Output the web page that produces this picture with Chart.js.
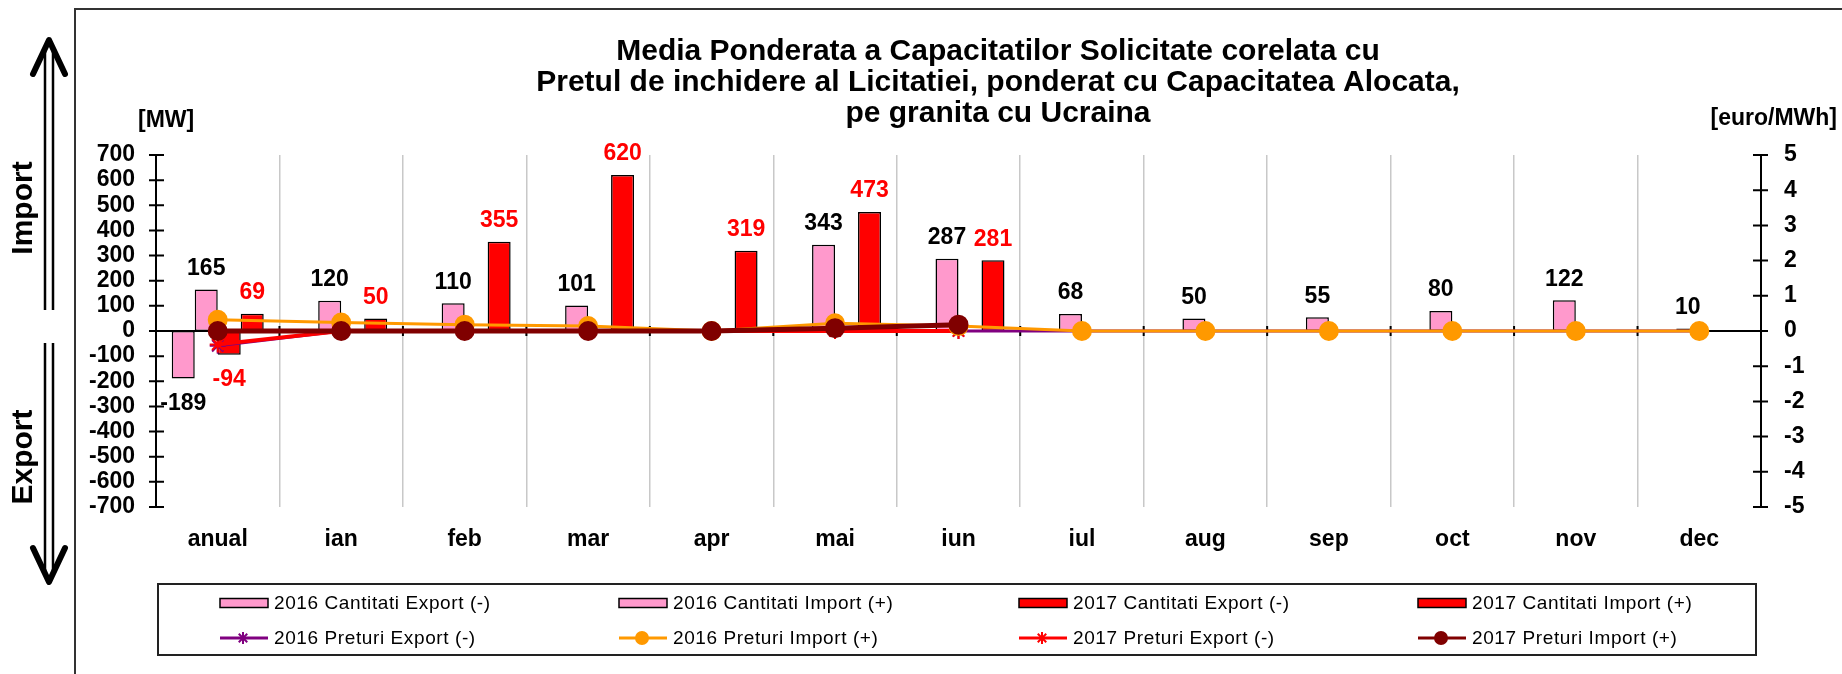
<!DOCTYPE html>
<html>
<head>
<meta charset="utf-8">
<script src="https://cdn.jsdelivr.net/npm/chart.js@4.4.1/dist/chart.umd.min.js"></script>
<style>
  html, body { margin: 0; padding: 0; background: #fff; }
  #wrap { width: 1842px; height: 674px; }
</style>
</head>
<body>
<div id="wrap"><canvas id="chart" width="1842" height="674"></canvas></div>
<script>
// categorii (luni)
const categories = ['anual', 'ian', 'feb', 'mar', 'apr', 'mai', 'iun', 'iul', 'aug', 'sep', 'oct', 'nov', 'dec'];

// cantitati [MW]
const cantExport2016 = [-189, null, null, null, null, null, null, null, null, null, null, null, null];
const cantImport2016 = [165, 120, 110, 101, null, 343, 287, 68, 50, 55, 80, 122, 10];
const cantExport2017 = [-94, null, null, null, null, null, null, null, null, null, null, null, null];
const cantImport2017 = [69, 50, 355, 620, 319, 473, 281, null, null, null, null, null, null];

// preturi [euro/MWh]
const pretExport2016 = [-0.42, 0, 0, 0, 0, 0, 0, 0, 0, 0, 0, 0, 0];
const pretImport2016 = [0.32, 0.24, 0.18, 0.14, 0, 0.22, 0.14, 0, 0, 0, 0, 0, 0];
const pretExport2017 = [-0.38, 0, 0, 0, 0, 0, 0, null, null, null, null, null, null];
const pretImport2017 = [0, 0, 0, 0, 0, 0.08, 0.18, null, null, null, null, null, null];

// axe
const mwTicks = { min: -700, max: 700, step: 100 };
const euroTicks = { min: -5, max: 5, step: 1 };

const FONT = "'Liberation Sans', Arial, sans-serif";
const PINK = '#FF99CC';
const RED = '#FF0000';
const ORANGE = '#FF9900';
const DARKRED = '#800000';
const PURPLE = '#800080';

// fundal, rama, sageti, titlu
const decorPlugin = {
  id: 'decor',
  beforeDraw(chart) {
    const ctx = chart.ctx;
    ctx.save();
    ctx.fillStyle = '#fff';
    ctx.fillRect(0, 0, chart.width, chart.height);

    ctx.strokeStyle = '#333';
    ctx.lineWidth = 2;
    ctx.beginPath();
    ctx.moveTo(75, chart.height);
    ctx.lineTo(75, 9);
    ctx.lineTo(chart.width, 9);
    ctx.stroke();

    drawArrow(ctx, 49, 310, 40);
    drawArrow(ctx, 49, 343, 582);

    ctx.fillStyle = '#000';
    ctx.font = 'bold 30px ' + FONT;
    ctx.textAlign = 'center';
    ctx.textBaseline = 'middle';
    ctx.save();
    ctx.translate(24, 208);
    ctx.rotate(-Math.PI / 2);
    ctx.fillText('Import', 0, 0);
    ctx.restore();
    ctx.save();
    ctx.translate(24, 457);
    ctx.rotate(-Math.PI / 2);
    ctx.fillText('Export', 0, 0);
    ctx.restore();

    ctx.font = 'bold 30px ' + FONT;
    ctx.fillText('Media Ponderata a Capacitatilor Solicitate corelata cu', 998, 52);
    ctx.fillText('Pretul de inchidere al Licitatiei, ponderat cu Capacitatea Alocata,', 998, 83);
    ctx.fillText('pe granita cu Ucraina', 998, 114);

    ctx.font = 'bold 23px ' + FONT;
    ctx.textAlign = 'left';
    ctx.fillText('[MW]', 138, 121);
    ctx.textAlign = 'right';
    ctx.fillText('[euro/MWh]', 1837, 119);
    ctx.restore();
  }
};

function drawArrow(ctx, x, yStart, yTip) {
  const dir = yTip < yStart ? 1 : -1;
  ctx.save();
  ctx.strokeStyle = '#000';
  ctx.lineWidth = 2.5;
  ctx.beginPath();
  ctx.moveTo(x - 4, yStart);
  ctx.lineTo(x - 4, yTip + dir * 8);
  ctx.moveTo(x + 4, yStart);
  ctx.lineTo(x + 4, yTip + dir * 8);
  ctx.stroke();
  ctx.lineWidth = 6;
  ctx.lineCap = 'round';
  ctx.lineJoin = 'round';
  ctx.beginPath();
  ctx.moveTo(x - 16, yTip + dir * 34);
  ctx.lineTo(x, yTip);
  ctx.lineTo(x + 16, yTip + dir * 34);
  ctx.stroke();
  ctx.restore();
}

// axa stanga, axa dreapta si linia de zero, cu gradatii
const axesPlugin = {
  id: 'axes',
  beforeDatasetsDraw(chart) {
    const ctx = chart.ctx;
    const a = chart.chartArea;
    const y = chart.scales.y, y1 = chart.scales.y1, x = chart.scales.x;
    ctx.save();
    ctx.strokeStyle = '#000';
    ctx.lineWidth = 2;
    ctx.beginPath();
    ctx.moveTo(a.left, a.top);
    ctx.lineTo(a.left, a.bottom);
    y.ticks.forEach(t => {
      const py = y.getPixelForValue(t.value);
      ctx.moveTo(a.left - 7, py);
      ctx.lineTo(a.left + 8, py);
    });
    ctx.moveTo(a.right, a.top);
    ctx.lineTo(a.right, a.bottom);
    y1.ticks.forEach(t => {
      const py = y1.getPixelForValue(t.value);
      ctx.moveTo(a.right - 8, py);
      ctx.lineTo(a.right + 7, py);
    });
    const y0 = y.getPixelForValue(0);
    ctx.moveTo(a.left, y0);
    ctx.lineTo(a.right, y0);
    for (let i = 1; i < categories.length; i++) {
      const px = (x.getPixelForValue(i - 1) + x.getPixelForValue(i)) / 2;
      ctx.moveTo(px, y0 - 5);
      ctx.lineTo(px, y0 + 5);
    }
    ctx.stroke();
    ctx.restore();
  }
};

// etichete de valori pe bare
const labelsPlugin = {
  id: 'barLabels',
  afterDatasetsDraw(chart) {
    const ctx = chart.ctx;
    ctx.save();
    ctx.font = 'bold 23px ' + FONT;
    ctx.textAlign = 'center';
    ctx.textBaseline = 'middle';
    chart.data.datasets.forEach((ds, i) => {
      if (ds.type !== 'bar') return;
      const meta = chart.getDatasetMeta(i);
      ctx.fillStyle = ds.labelColor;
      meta.data.forEach((el, j) => {
        const v = ds.data[j];
        if (v === null || v === undefined) return;
        const ty = v >= 0 ? el.y - 21 : el.y + 25;
        ctx.fillText(String(v), el.x, ty);
      });
    });
    ctx.restore();
  }
};

// legenda in 4 coloane x 2 randuri
const legendPlugin = {
  id: 'boxLegend',
  afterDraw(chart) {
    const ctx = chart.ctx;
    const box = { x: 158, y: 584, w: 1598, h: 71 };
    const colX = [220, 619, 1019, 1418];
    const rowY = [603, 638];
    ctx.save();
    ctx.fillStyle = '#fff';
    ctx.fillRect(box.x, box.y, box.w, box.h);
    ctx.strokeStyle = '#222';
    ctx.lineWidth = 2;
    ctx.strokeRect(box.x, box.y, box.w, box.h);
    chart.data.datasets.forEach((ds, i) => {
      const cx = colX[i % 4];
      const cy = rowY[Math.floor(i / 4)];
      if (ds.type === 'bar') {
        ctx.fillStyle = ds.backgroundColor;
        ctx.fillRect(cx, cy - 4.5, 48, 9);
        ctx.strokeStyle = '#000';
        ctx.lineWidth = 1.5;
        ctx.strokeRect(cx, cy - 4.5, 48, 9);
      } else {
        ctx.strokeStyle = ds.borderColor;
        ctx.lineWidth = 3;
        ctx.beginPath();
        ctx.moveTo(cx, cy);
        ctx.lineTo(cx + 48, cy);
        ctx.stroke();
        ctx.fillStyle = ds.pointBackgroundColor;
        ctx.strokeStyle = ds.pointBorderColor;
        ctx.lineWidth = 2;
        Chart.helpers.drawPoint(ctx, { pointStyle: ds.pointStyle, radius: 6, borderWidth: 2, rotation: 0 }, cx + 23, cy);
      }
      ctx.fillStyle = '#000';
      ctx.font = '19px ' + FONT;
      ctx.letterSpacing = '0.6px';
      ctx.textAlign = 'left';
      ctx.textBaseline = 'middle';
      ctx.fillText(ds.label, cx + 54, cy + 1);
      ctx.letterSpacing = '0px';
    });
    ctx.restore();
  }
};

function barSet(label, data, color, labelColor) {
  return {
    type: 'bar', label: label, data: data, yAxisID: 'y',
    backgroundColor: color, borderColor: '#000', borderWidth: 1.5,
    borderSkipped: false, labelColor: labelColor, order: 10,
    categoryPercentage: 0.745, barPercentage: 1.0
  };
}

function lineSet(label, data, color, style, radius, width, order) {
  return {
    type: 'line', label: label, data: data, yAxisID: 'y1',
    borderColor: color, backgroundColor: color, borderWidth: width,
    pointStyle: style, pointRadius: radius, pointBorderWidth: 2,
    pointBackgroundColor: color, pointBorderColor: color,
    tension: 0, fill: false, order: order
  };
}

const ctx = document.getElementById('chart').getContext('2d');
const chart = new Chart(ctx, {
  data: {
    labels: categories,
    datasets: [
      barSet('2016 Cantitati Export (-)', cantExport2016, PINK, '#000'),
      barSet('2016 Cantitati Import (+)', cantImport2016, PINK, '#000'),
      barSet('2017 Cantitati Export (-)', cantExport2017, RED, RED),
      barSet('2017 Cantitati Import (+)', cantImport2017, RED, RED),
      lineSet('2016 Preturi Export (-)', pretExport2016, PURPLE, 'star', 8, 3, 3),
      lineSet('2016 Preturi Import (+)', pretImport2016, ORANGE, 'circle', 9, 3, 1),
      lineSet('2017 Preturi Export (-)', pretExport2017, RED, 'star', 8, 4, 2),
      lineSet('2017 Preturi Import (+)', pretImport2017, DARKRED, 'circle', 9, 5, 0)
    ]
  },
  options: {
    responsive: false,
    animation: false,
    devicePixelRatio: 1,
    layout: { padding: { top: 155, left: 0, right: 0, bottom: 0 } },
    plugins: {
      legend: { display: false },
      title: { display: false },
      tooltip: { enabled: false }
    },
    scales: {
      x: {
        offset: true,
        grid: { display: true, offset: true, color: '#C8C8C8', lineWidth: 1.5, drawTicks: false },
        border: { display: false },
        ticks: { color: '#000', padding: 19, font: { family: FONT, size: 23, weight: 'bold' } },
        afterFit(scale) { scale.height = 167; }
      },
      y: {
        position: 'left',
        min: mwTicks.min, max: mwTicks.max,
        grid: { display: false, drawTicks: false },
        border: { display: false },
        ticks: { stepSize: mwTicks.step, autoSkip: false, color: '#000', padding: 21, font: { family: FONT, size: 23, weight: 'bold' } },
        afterFit(scale) { scale.width = 156; }
      },
      y1: {
        position: 'right',
        min: euroTicks.min, max: euroTicks.max,
        grid: { display: false, drawTicks: false },
        border: { display: false },
        ticks: { stepSize: euroTicks.step, autoSkip: false, color: '#000', padding: 23, font: { family: FONT, size: 23, weight: 'bold' } },
        afterFit(scale) { scale.width = 81; }
      }
    }
  },
  plugins: [decorPlugin, axesPlugin, labelsPlugin, legendPlugin]
});
</script>
</body>
</html>
